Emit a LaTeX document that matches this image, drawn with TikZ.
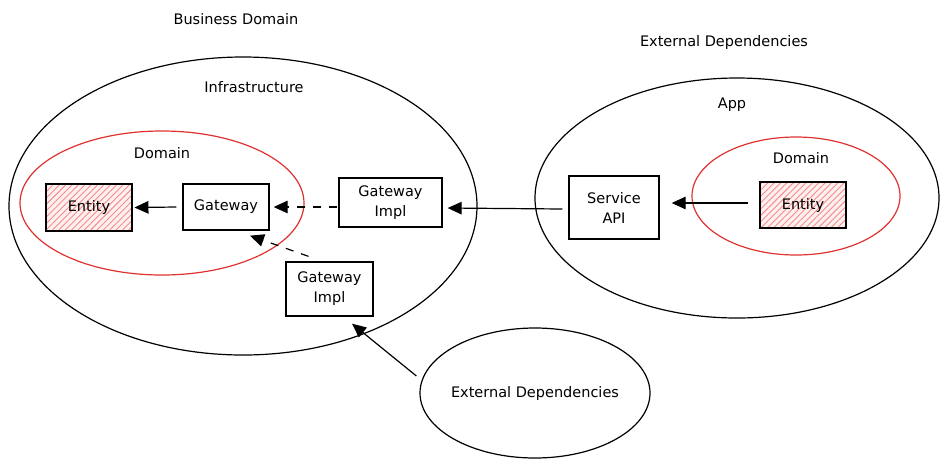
\documentclass[tikz,border=0pt]{standalone}
\usepackage{fontspec}
\setmainfont{DejaVu Sans}
\usetikzlibrary{shapes.geometric,arrows.meta,patterns.meta}
\definecolor{domred}{RGB}{224,49,49}
\definecolor{entfill}{RGB}{255,240,240}
\definecolor{hatch}{RGB}{245,140,140}
\tikzset{
  every node/.style={font=\fontsize{14.5}{20}\selectfont},
  oval/.style={ellipse, draw=black, line width=1.2pt, inner sep=0pt},
  redoval/.style={ellipse, draw=domred, line width=1.2pt, inner sep=0pt},
  box/.style={rectangle, draw=black, line width=1.3pt, inner sep=0pt, align=center},
  entbox/.style={box, preaction={fill=entfill},
    pattern={Lines[angle=45,distance=4.5pt,line width=0.9pt]}, pattern color=hatch},
  lbl/.style={inner sep=0pt, anchor=center},
  arr/.style={draw=black, line width=1.2pt, -{Triangle[length=14pt,width=12.5pt]}},
  dasharr/.style={arr, dash pattern=on 8pt off 8pt},
}
\begin{document}
\begin{tikzpicture}[x=1pt,y=-1pt]
\useasboundingbox (0,0) rectangle (949,467);
% containers
\node[oval, minimum width=468pt, minimum height=298pt] (biz) at (243,206) {};
\node[redoval, minimum width=284pt, minimum height=144pt] (domL) at (162,203) {};
\node[oval, minimum width=404pt, minimum height=240pt] (app) at (737,198) {};
\node[redoval, minimum width=208pt, minimum height=118pt] (domR) at (796,196) {};
\node[oval, minimum width=230pt, minimum height=130pt] (ext) at (535,393) {};
% labels
\node[lbl] (bizlbl) at (236,19) {Business Domain};
\node[lbl] (infralbl) at (254,87) {Infrastructure};
\node[lbl] (domLlbl) at (162,153) {Domain};
\node[lbl] (extlbl) at (724,42) {External Dependencies};
\node[lbl] (applbl) at (732,105) {App};
\node[lbl] (domRlbl) at (801,158) {Domain};
\node[lbl] (extin) at (ext.center) {External Dependencies};
% boxes
\node[entbox, minimum width=86pt, minimum height=47pt] (entL) at (89,207.5) {Entity};
\node[box, minimum width=86pt, minimum height=46pt] (gw) at (226,207) {Gateway};
\node[box, minimum width=103pt, minimum height=49pt] (impl1) at (390.5,202.5) {Gateway\\Impl};
\node[box, minimum width=87pt, minimum height=54pt] (impl2) at (329.5,289) {Gateway\\Impl};
\node[box, minimum width=90pt, minimum height=63pt] (svc) at (614,207.5) {Service\\API};
\node[entbox, minimum width=86pt, minimum height=46pt] (entR) at (803,205) {Entity};
% connectors
\draw[arr] ([xshift=-6pt]gw.west) -- ([xshift=2pt]entL.east);
\draw[dasharr] ([xshift=-1pt]impl1.west |- gw.east) -- ([xshift=4pt]gw.east);
\draw[dasharr] ([xshift=-21pt,yshift=5pt]impl2.north) -- ([xshift=24pt,yshift=-5pt]gw.south);
\draw[arr] ([xshift=-6pt,yshift=-1.5pt]svc.west) -- ([xshift=5pt,yshift=-5.5pt]impl1.east);
\draw[arr] ([xshift=-11pt,yshift=2pt]entR.west) -- ([xshift=12pt,yshift=4.5pt]svc.east);
\draw[arr] ([xshift=-3pt,yshift=17pt]ext.west) -- ([xshift=22.5pt,yshift=-7pt]impl2.south);
\end{tikzpicture}
\end{document}
